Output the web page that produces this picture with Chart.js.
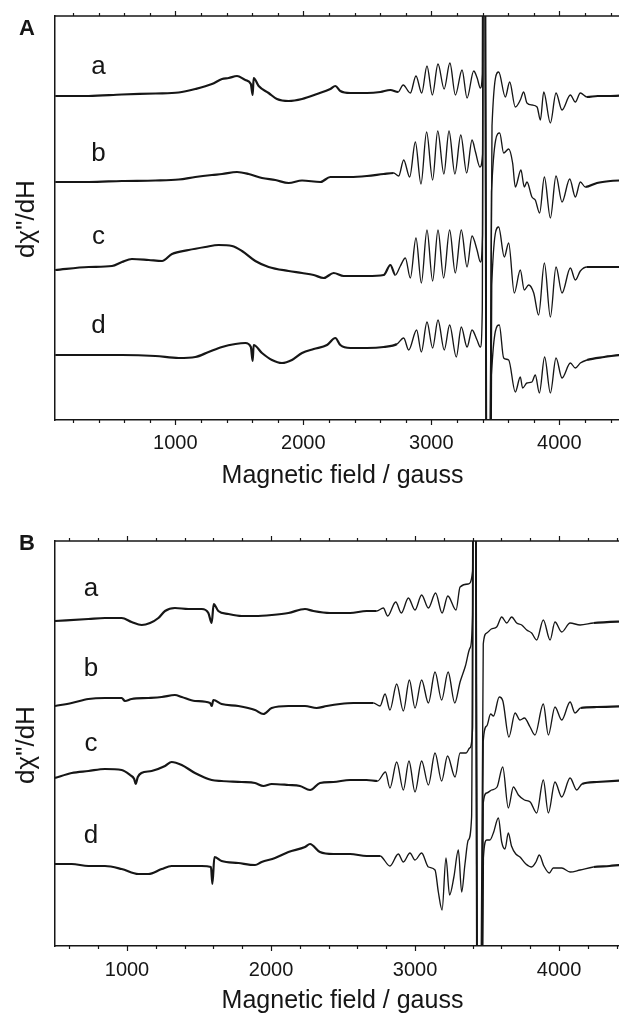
<!DOCTYPE html>
<html>
<head>
<meta charset="utf-8">
<script src="https://cdn.jsdelivr.net/npm/chart.js@4/dist/chart.umd.min.js"></script>
<style>
html, body { margin: 0; padding: 0; background: #fff; overflow: hidden; width: 619px; height: 1013px; }
canvas { position: absolute; left: 0; }
#panelA { top: 0; }
#panelB { top: 500px; }
</style>
</head>
<body>
<canvas id="panelA" width="640" height="500"></canvas>
<canvas id="panelB" width="640" height="513"></canvas>
<script>
// [field in gauss, signal above the trace's own baseline]
const traceNames = ['a', 'b', 'c', 'd'];
const tickValues = [1000, 2000, 3000, 4000];
const rangeA = [60, 4552];
const rangeB = [500, 4493];
const offsetsA = [324, 238, 150, 65];
const offsetsB = [325, 240, 168, 82];

const traceAa = [[62,0],[323,0],[583,1.5],[844,2.5],[1026,3.5],[1156,7],[1286,12],[1365,17],[1417,18],[1482,20],[1547,16],[1590,12],[1604,1],[1612,18],[1651,10],[1729,3],[1794,-3],[1885,-5],[1990,-3],[2107,2],[2211,7],[2250,10],[2289,5],[2367,3],[2497,3],[2602,4],[2680,6],[2740,4],[2780,11],[2836,3],[2880,20],[2925,3],[2966,30],[3008,1],[3052,32],[3100,7],[3145,33],[3188,1],[3240,26],[3279,-2],[3331,25],[3358,18],[3383,8],[3398,22],[3408,700],[3443,-700],[3474,-30],[3526,24],[3578,-1],[3612,14],[3656,-11],[3695,-4],[3721,4],[3747,-7],[3787,-9],[3826,-11],[3852,-24],[3878,4],[3930,-27],[3974,3],[4021,-14],[4086,1],[4125,-6],[4164,3],[4216,-1],[4300,0],[4400,0],[4552,1]];
const traceAb = [[62,0],[323,0],[583,1],[844,1.5],[1026,2.5],[1156,5],[1286,7],[1365,8],[1482,10],[1573,8],[1677,4],[1781,2],[1885,-1],[1990,1.5],[2133,0],[2211,5],[2367,5],[2497,6],[2628,8],[2706,9],[2745,6],[2784,22],[2831,5],[2875,40],[2919,-2],[2963,50],[3010,2],[3050,51],[3098,8],[3138,51],[3184,8],[3230,47],[3276,9],[3318,42],[3345,30],[3380,15],[3400,28],[3408,700],[3443,-700],[3470,-10],[3534,49],[3565,29],[3604,33],[3635,19],[3656,-5],[3700,12],[3726,-5],[3747,0],[3786,-15],[3812,-18],[3846,-31],[3883,5],[3930,-36],[3974,6],[4021,-20],[4081,3],[4125,-15],[4164,0],[4203,-5],[4294,-1],[4400,1],[4552,2]];
const traceAc = [[62,0],[323,3],[505,4],[583,8],[661,11],[792,10],[896,9],[974,16],[1104,20],[1234,23],[1338,25],[1443,24],[1521,19],[1625,9],[1729,3],[1885,-1],[1990,-3],[2081,-5],[2159,-8],[2237,-3],[2315,-6],[2497,-6],[2628,-5],[2680,5],[2719,-5],[2758,4],[2797,12],[2836,-8],[2880,32],[2922,-13],[2966,40],[3010,-11],[3052,40],[3096,-8],[3143,40],[3187,-3],[3234,40],[3279,3],[3318,34],[3357,20],[3383,8],[3400,35],[3408,700],[3443,-700],[3472,-15],[3526,43],[3570,13],[3604,27],[3648,-23],[3695,0],[3726,-20],[3760,-15],[3800,-23],[3838,-45],[3883,7],[3930,-47],[3974,3],[4021,-23],[4086,2],[4125,-10],[4164,-1],[4216,3],[4400,3],[4552,3]];
const traceAd = [[62,0],[323,0],[583,0],[844,-1],[1026,-3],[1156,-2],[1260,3],[1365,8],[1469,11],[1547,12],[1590,8],[1604,-6],[1612,10],[1677,2],[1755,-5],[1833,-8],[1911,-5],[1990,2],[2081,6],[2185,10],[2250,17],[2289,10],[2367,7],[2497,7],[2628,8],[2732,11],[2784,17],[2823,5],[2885,25],[2922,3],[2966,33],[3010,7],[3052,35],[3101,5],[3143,30],[3195,-2],[3234,28],[3279,8],[3318,25],[3357,15],[3383,8],[3398,45],[3408,700],[3443,-700],[3470,-20],[3531,30],[3565,-3],[3604,-5],[3656,-37],[3695,-22],[3713,-33],[3747,-28],[3786,-27],[3812,-20],[3844,-38],[3885,-2],[3930,-38],[3974,-3],[4021,-23],[4086,-8],[4125,-13],[4164,-8],[4216,-5],[4350,-2],[4552,1]];

const traceBa = [[500,0],[732,2],[847,3],[963,3],[1032,-1],[1102,-4],[1160,-2],[1218,3],[1264,10],[1333,13],[1426,12],[1519,12],[1565,8],[1588,-2],[1602,17],[1634,10],[1704,7],[1796,5],[1889,5],[2005,6],[2121,8],[2236,12],[2294,10],[2410,8],[2549,8],[2664,10],[2734,10],[2780,13],[2810,5],[2866,19],[2905,8],[2954,23],[3000,11],[3046,26],[3093,13],[3143,28],[3188,8],[3228,25],[3285,11],[3313,34],[3370,37],[3400,50],[3410,700],[3443,-700],[3474,-23],[3498,-12],[3530,-8],[3567,-6],[3602,4],[3637,-2],[3671,4],[3706,-2],[3741,-4],[3776,-9],[3810,-12],[3845,-19],[3891,1],[3938,-19],[3972,-1],[4019,-11],[4077,-2],[4146,-4],[4239,-2],[4493,0]];
const traceBb = [[500,0],[616,3],[732,7],[847,8],[963,8],[986,5],[1032,7],[1148,8],[1241,9],[1333,11],[1380,9],[1472,5],[1577,3],[1588,0],[1600,6],[1657,2],[1773,0],[1889,-4],[1947,-8],[2005,-2],[2121,0],[2236,0],[2317,-2],[2387,0],[2479,2],[2572,3],[2711,3],[2757,0],[2792,12],[2826,-4],[2873,22],[2919,-5],[2961,26],[3000,-2],[3046,26],[3093,3],[3139,34],[3185,6],[3230,34],[3276,3],[3313,24],[3350,40],[3382,58],[3400,90],[3410,700],[3443,-700],[3474,-35],[3498,-20],[3525,-8],[3545,-10],[3585,9],[3610,5],[3652,-31],[3695,-7],[3729,-14],[3760,-12],[3799,-21],[3833,-29],[3891,2],[3926,-29],[3972,-1],[4019,-14],[4077,4],[4111,-7],[4150,-2],[4262,-1],[4493,0]];
const traceBc = [[500,0],[616,5],[732,7],[847,9],[963,8],[1021,3],[1050,-1],[1060,-6],[1075,1],[1100,5],[1171,7],[1264,12],[1310,16],[1380,13],[1472,5],[1588,-2],[1657,-3],[1796,-4],[1889,-5],[1947,-8],[2005,-6],[2121,-7],[2201,-8],[2271,-12],[2340,-5],[2433,-4],[2549,-2],[2664,-2],[2740,-3],[2795,6],[2826,-10],[2873,16],[2919,-12],[2958,17],[3000,-14],[3046,17],[3093,-7],[3139,25],[3185,-3],[3226,22],[3278,1],[3313,25],[3355,25],[3380,30],[3400,50],[3410,700],[3443,-700],[3474,-25],[3498,-15],[3532,-12],[3570,-9],[3609,11],[3648,-30],[3683,-9],[3718,-17],[3760,-22],[3800,-24],[3845,-35],[3891,-2],[3926,-35],[3972,-4],[4019,-19],[4077,0],[4123,-12],[4160,-6],[4262,-4],[4493,-2]];
const traceBd = [[500,0],[616,0],[732,-2],[847,-2],[963,-5],[1079,-10],[1148,-10],[1241,-5],[1310,-2],[1426,-2],[1519,-2],[1583,-3],[1593,-20],[1607,7],[1657,3],[1773,1],[1889,-1],[1935,2],[2028,6],[2121,12],[2236,17],[2271,20],[2340,12],[2433,10],[2549,10],[2664,8],[2757,8],[2826,-2],[2884,10],[2919,2],[2965,11],[3000,4],[3046,11],[3093,-3],[3139,-6],[3162,-28],[3188,-46],[3215,6],[3240,-31],[3270,-13],[3301,14],[3324,-28],[3347,0],[3370,24],[3393,47],[3410,700],[3443,-700],[3475,6],[3498,24],[3520,24],[3544,31],[3579,46],[3602,22],[3625,15],[3648,31],[3670,18],[3700,10],[3729,7],[3770,0],[3810,-3],[3840,2],[3863,9],[3895,-2],[3933,-9],[3960,-4],[4019,-4],[4077,-8],[4146,-6],[4239,-3],[4350,-2],[4493,0]];

const ink = '#161616';
const family = "'Liberation Sans', Arial, sans-serif";

// noisy baseline looks heavier than the resolved hyperfine lines
function segWidth(ctx) {
  const x = (ctx.p0.parsed.x + ctx.p1.parsed.x) / 2;
  return x > 2720 && x < 4200 ? 1.35 : 2.2;
}

const framePlugin = {
  id: 'frame',
  afterDraw(chart, args, opts) {
    const {ctx, chartArea: a, scales: {x, y}} = chart;
    ctx.save();
    ctx.strokeStyle = ink;
    ctx.lineWidth = 1.5;
    ctx.beginPath();
    ctx.moveTo(a.left, a.top);
    ctx.lineTo(a.right, a.top);
    ctx.stroke();
    ctx.lineWidth = 1.2;
    for (let v = Math.ceil(x.min / 200) * 200; v <= x.max; v += 200) {
      const px = Math.round(x.getPixelForValue(v)) + 0.5;
      if (px <= a.left + 2) continue;
      const len = v % 1000 === 0 ? 5 : 3;
      ctx.beginPath();
      ctx.moveTo(px, a.top);
      ctx.lineTo(px, a.top - len);
      ctx.moveTo(px, a.bottom);
      ctx.lineTo(px, a.bottom + len);
      ctx.stroke();
    }
    ctx.fillStyle = ink;
    ctx.textBaseline = 'alphabetic';
    ctx.textAlign = 'left';
    ctx.font = 'bold 22px ' + family;
    ctx.fillText(opts.letter, 19, opts.letterY);
    ctx.textAlign = 'center';
    ctx.font = '25px ' + family;
    ctx.fillText('Magnetic field / gauss', (a.left + a.right) / 2, opts.titleY);
    ctx.font = '26px ' + family;
    ctx.save();
    ctx.translate(34, opts.yTitleY);
    ctx.rotate(-Math.PI / 2);
    ctx.fillText('dχ"/dH', 0, 0);
    ctx.restore();
    traceNames.forEach((n, i) => {
      ctx.fillText(n, x.getPixelForValue(opts.labelX), y.getPixelForValue(opts.labelY[i]));
    });
    ctx.restore();
  }
};

function drawPanel(id, traces, offsets, range, ymax, lay) {
  new Chart(document.getElementById(id), {
    type: 'line',
    data: {
      datasets: traces.map((t, i) => ({
        label: traceNames[i],
        data: t.map(p => ({x: p[0], y: p[1] + offsets[i]})),
        borderColor: ink,
        borderWidth: 1.6,
        pointRadius: 0,
        fill: false,
        cubicInterpolationMode: 'monotone',
        segment: {borderWidth: segWidth}
      }))
    },
    options: {
      responsive: false,
      animation: false,
      events: [],
      layout: {padding: {top: lay.top, right: 10, left: 0, bottom: 0}},
      plugins: {
        legend: {display: false},
        tooltip: {enabled: false},
        frame: lay
      },
      scales: {
        x: {
          type: 'linear',
          min: range[0],
          max: range[1],
          afterBuildTicks: s => { s.ticks = tickValues.map(v => ({value: v})); },
          afterFit: s => { s.height = lay.xHeight; },
          grid: {display: false, drawTicks: false},
          border: {display: true, color: ink, width: 1.5},
          ticks: {
            color: ink,
            font: {family: family, size: 20},
            padding: lay.tickPad,
            maxRotation: 0,
            autoSkip: false,
            callback: v => String(v)
          }
        },
        y: {
          min: 0,
          max: ymax,
          afterFit: s => { s.width = 55; },
          ticks: {display: false},
          grid: {display: false, drawTicks: false},
          border: {display: true, color: ink, width: 1.5}
        }
      }
    },
    plugins: [framePlugin]
  });
}

drawPanel('panelA', [traceAa, traceAb, traceAc, traceAd], offsetsA, rangeA, 404, {
  top: 16, xHeight: 80, tickPad: 11, letter: 'A', letterY: 35, titleY: 483, yTitleY: 219,
  labelX: 400, labelY: [346, 259, 176, 87]
});
drawPanel('panelB', [traceBa, traceBb, traceBc, traceBd], offsetsB, rangeB, 405, {
  top: 41, xHeight: 67, tickPad: 12, letter: 'B', letterY: 50, titleY: 1008 - 500, yTitleY: 245,
  labelX: 750, labelY: [350, 270, 195, 103]
});
</script>
</body>
</html>
